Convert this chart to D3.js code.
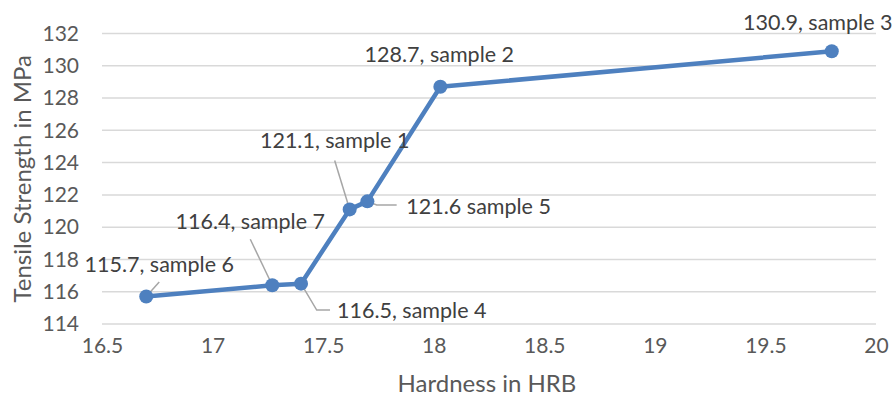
<!DOCTYPE html>
<html>
<head>
<meta charset="utf-8">
<script src="https://cdn.jsdelivr.net/npm/d3@7/dist/d3.min.js"></script>
<style>
  html, body { margin: 0; padding: 0; background: #ffffff; }
  svg { display: block; font-family: Lato, "Open Sans", sans-serif; }
</style>
</head>
<body>
<svg id="chart" width="896" height="400"></svg>
<script>
// Hardness vs tensile strength, one point per sample
const samples   = ["sample 1", "sample 2", "sample 3", "sample 4", "sample 5", "sample 6", "sample 7"];
const hardness  = [17.62, 18.03, 19.80, 17.40, 17.70, 16.70, 17.27];
const strength  = [121.1, 128.7, 130.9, 116.5, 121.6, 115.7, 116.4];
const labelText = ["121.1, sample 1", "128.7, sample 2", "130.9, sample 3", "116.5, sample 4",
                   "121.6 sample 5", "115.7, sample 6", "116.4, sample 7"];

const xTicks = [16.5, 17, 17.5, 18, 18.5, 19, 19.5, 20];
const yTicks = [114, 116, 118, 120, 122, 124, 126, 128, 130, 132];

const xTitle = "Hardness in HRB";
const yTitle = "Tensile Strength in MPa";

// Label placement relative to each point: text anchor, text offset, leader path
const labelLayout = [
  { anchor: "middle", dx: -15, dy: -61, leader: [[-15, -49]] },
  { anchor: "middle", dx: -1,  dy: -25, leader: null },
  { anchor: "middle", dx: -14, dy: -21, leader: null },
  { anchor: "start",  dx: 36,  dy: 34.5, leader: [[15.7, 26.4], [29, 26.4]] },
  { anchor: "start",  dx: 39,  dy: 13,  leader: [[9.3, 3.7], [29.3, 3.7]] },
  { anchor: "middle", dx: 13,  dy: -24.6, leader: [[13, -14.6]] },
  { anchor: "middle", dx: -22, dy: -56, leader: [[-22, -46]] }
];

const svg = d3.select("#chart");
const plot = { left: 102, right: 876, top: 33.5, bottom: 324 };

const x = d3.scaleLinear().domain([16.5, 20]).range([plot.left, plot.right]);
const y = d3.scaleLinear().domain([114, 132]).range([plot.bottom, plot.top]);

// Horizontal gridlines
svg.append("g")
  .selectAll("line")
  .data(yTicks)
  .join("line")
  .attr("x1", plot.left).attr("x2", plot.right)
  .attr("y1", d => y(d)).attr("y2", d => y(d))
  .attr("stroke", "#d9d9d9")
  .attr("stroke-width", 1.5);

// Y axis tick labels
const yAxis = d3.axisLeft(y).tickValues(yTicks).tickSize(0).tickPadding(23).tickFormat(d3.format("d"));
svg.append("g")
  .attr("transform", `translate(${plot.left},0)`)
  .call(yAxis)
  .call(g => g.select(".domain").remove())
  .call(g => g.selectAll("text")
    .attr("fill", "#595959")
    .style("font-size", "21px")
    .style("font-family", "Lato, sans-serif"));

// X axis tick labels
const xAxis = d3.axisBottom(x).tickValues(xTicks).tickSize(0).tickPadding(14).tickFormat(d => String(d));
svg.append("g")
  .attr("transform", `translate(0,${plot.bottom})`)
  .call(xAxis)
  .call(g => g.select(".domain").remove())
  .call(g => g.selectAll("text")
    .attr("fill", "#595959")
    .style("font-size", "21px")
    .style("font-family", "Lato, sans-serif"));

// Axis titles
svg.append("text")
  .attr("x", (plot.left + plot.right) / 2 - 2)
  .attr("y", 392)
  .attr("text-anchor", "middle")
  .attr("fill", "#595959")
  .style("font-size", "24px")
  .text(xTitle);

svg.append("text")
  .attr("transform", `translate(31,${(plot.top + plot.bottom) / 2}) rotate(-90)`)
  .attr("text-anchor", "middle")
  .attr("fill", "#595959")
  .style("font-size", "24px")
  .text(yTitle);

// Points, connected in order of hardness
const points = samples.map((s, i) => ({
  name: s, hx: hardness[i], ts: strength[i], label: labelText[i], layout: labelLayout[i]
}));
const ordered = points.slice().sort((a, b) => a.hx - b.hx);

const color = "#4e80bf";

// Leader lines
svg.append("g")
  .selectAll("polyline")
  .data(points.filter(p => p.layout.leader))
  .join("polyline")
  .attr("points", p => {
    const px = x(p.hx), py = y(p.ts);
    return [[px, py]].concat(p.layout.leader.map(([a, b]) => [px + a, py + b]))
      .map(q => q.join(",")).join(" ");
  })
  .attr("fill", "none")
  .attr("stroke", "#a6a6a6")
  .attr("stroke-width", 1.5);

svg.append("path")
  .datum(ordered)
  .attr("d", d3.line().x(p => x(p.hx)).y(p => y(p.ts)))
  .attr("fill", "none")
  .attr("stroke", color)
  .attr("stroke-width", 4.5)
  .attr("stroke-linejoin", "round");

svg.append("g")
  .selectAll("circle")
  .data(ordered)
  .join("circle")
  .attr("cx", p => x(p.hx))
  .attr("cy", p => y(p.ts))
  .attr("r", 7)
  .attr("fill", color);

// Data labels
svg.append("g")
  .selectAll("text")
  .data(points)
  .join("text")
  .attr("x", p => x(p.hx) + p.layout.dx)
  .attr("y", p => y(p.ts) + p.layout.dy)
  .attr("text-anchor", p => p.layout.anchor)
  .attr("fill", "#404040")
  .style("font-size", "21.5px")
  .text(p => p.label);
</script>
</body>
</html>
